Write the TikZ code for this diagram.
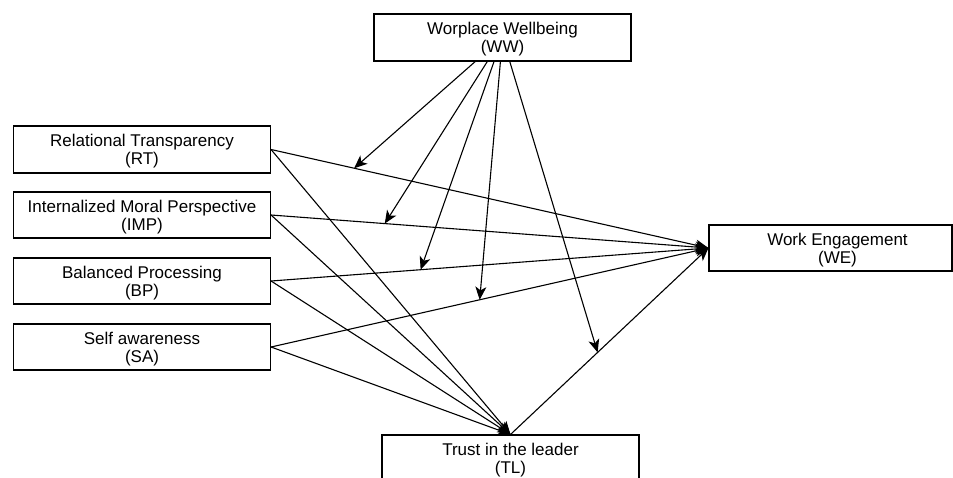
\documentclass[tikz,border=0pt]{standalone}
\usepackage{fontspec}
\setmainfont{Liberation Sans}
\usetikzlibrary{arrows.meta,calc}
\newcommand\tfix{\rule{0pt}{16.4pt}}
\begin{document}
\begin{tikzpicture}[x=1pt,y=-1pt,
  box/.style={draw, line width=1.1pt, minimum width=257pt, minimum height=47pt,
    inner sep=0pt, align=center, font=\fontsize{17}{18}\selectfont},
  conn/.style={line width=1.1pt, -{Stealth[length=13pt,width=11pt,inset=3.5pt]}}]
\useasboundingbox (0,0) rectangle (953,477);
\fill[white] (0,0) rectangle (953,477);
\clip (0,0) rectangle (953,477);
\node[box] (WW) at (502.5,37.5) {\tfix Worplace Wellbeing\\(WW)};
\node[box] (RT) at (142,149.5) {\tfix Relational Transparency\\(RT)};
\node[box, minimum height=46pt] (IMP) at (142,215) {\tfix Internalized Moral Perspective\\(IMP)};
\node[box, minimum height=46pt] (BP) at (142,281) {\tfix Balanced Processing\\(BP)};
\node[box, minimum height=46pt] (SA) at (142,347) {\tfix Self awareness\\(SA)};
\node[box] (TL) at (510.5,458.5) {\tfix Trust in the leader\\(TL)};
\node[box, minimum height=46pt, minimum width=243pt] (WE) at (830.5,248) {\tfix\hspace*{14pt}Work Engagement\\\hspace*{14pt}(WE)};
% paths to WE
\draw[conn] (RT.east) -- (WE.west);
\draw[conn] (IMP.east) -- (WE.west);
\draw[conn] (BP.east) -- (WE.west);
\draw[conn] (SA.east) -- (WE.west);
\draw[conn] (TL.north) -- (WE.west);
% paths to TL
\draw[conn] (RT.east) -- (TL.north);
\draw[conn] (IMP.east) -- (TL.north);
\draw[conn] (BP.east) -- (TL.north);
\draw[conn] (SA.east) -- (TL.north);
% moderation points
\coordinate (m1) at ($(RT.east)!0.19!(WE.west)$);
\coordinate (m2) at ($(IMP.east)!0.26!(WE.west)$);
\coordinate (m3) at ($(BP.east)!0.342!(WE.west)$);
\coordinate (m4) at ($(SA.east)!0.477!(WE.west)$);
\coordinate (m5) at ($(TL.north)!0.44!(WE.west)$);
\draw[conn] (WW) -- (m1);
\draw[conn] (WW) -- (m2);
\draw[conn] (WW) -- (m3);
\draw[conn] (WW) -- (m4);
\draw[conn] (WW) -- (m5);
\end{tikzpicture}
\end{document}
